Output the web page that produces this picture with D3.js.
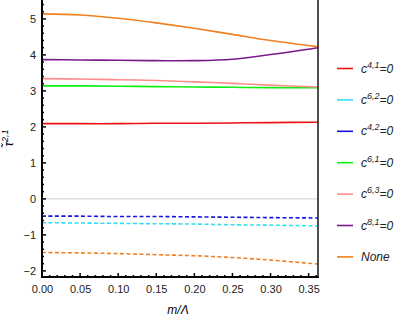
<!DOCTYPE html>
<html>
<head>
<meta charset="utf-8">
<script src="https://cdn.jsdelivr.net/npm/d3@7"></script>
<style>
  body { margin: 0; background: white; }
  text { font-family: 'Liberation Sans', Arial, sans-serif; }
</style>
</head>
<body>
<script>
// Data
let xs = [0, 0.05, 0.10, 0.15, 0.20, 0.25, 0.30, 0.362];

let c41 = [2.09, 2.09, 2.09, 2.10, 2.10, 2.11, 2.12, 2.13];
let c62 = [-0.66, -0.67, -0.68, -0.69, -0.70, -0.72, -0.73, -0.75];
let c42 = [-0.48, -0.48, -0.49, -0.49, -0.50, -0.51, -0.52, -0.53];
let c61 = [3.14, 3.14, 3.13, 3.12, 3.11, 3.10, 3.09, 3.09];
let c63 = [3.34, 3.33, 3.31, 3.29, 3.25, 3.21, 3.16, 3.11];
let c81 = [3.87, 3.86, 3.85, 3.84, 3.84, 3.88, 4.01, 4.20];
let noneTop = [5.14, 5.11, 5.02, 4.89, 4.74, 4.57, 4.40, 4.23];
let noneBottom = [-1.49, -1.50, -1.52, -1.55, -1.58, -1.63, -1.70, -1.81];

let legendLabels = [
  ['4,1', 'c'], ['6,2', 'c'], ['4,2', 'c'], ['6,1', 'c'],
  ['6,3', 'c'], ['8,1', 'c'], [null, 'None']
];
let legendColors = ['#ee1111', '#33e0ee', '#1515dd', '#11ee11', '#ff8c8c', '#7a1a8a', '#f08020'];

let xTicks = [0, 0.05, 0.10, 0.15, 0.20, 0.25, 0.30, 0.35];
let yTicks = [-2, -1, 0, 1, 2, 3, 4, 5];

let
  width = 405,
  height = 321;

let margin = { top: 2, bottom: 44, left: 42, right: 87 };

let svg = d3.select('body')
  .append('svg')
  .attr('width', width)
  .attr('height', height)
  .style('background', 'white');

let xScale = d3.scaleLinear()
  .domain([0, 0.3623])
  .range([margin.left, width - margin.right]);

let yScale = d3.scaleLinear()
  .domain([-2.17, 5.47])
  .range([height - margin.bottom, margin.top]);

// zero grid line
svg.append('line')
  .attr('x1', xScale(0)).attr('x2', xScale(0.3623))
  .attr('y1', yScale(0)).attr('y2', yScale(0))
  .attr('stroke', '#cccccc').attr('stroke-width', 1);

// curves
let line = d3.line()
  .x((d, i) => xScale(xs[i]))
  .y(d => yScale(d))
  .curve(d3.curveCatmullRom.alpha(0.5));

let series = [
  { v: c41, color: legendColors[0], dash: null },
  { v: c61, color: legendColors[3], dash: null },
  { v: c63, color: legendColors[4], dash: null },
  { v: c81, color: legendColors[5], dash: null },
  { v: noneTop, color: legendColors[6], dash: null },
  { v: c62, color: legendColors[1], dash: '4,2.5' },
  { v: c42, color: legendColors[2], dash: '4,2.5' },
  { v: noneBottom, color: legendColors[6], dash: '4,2.5' }
];

svg.selectAll('.curve')
  .data(series)
  .enter()
  .append('path')
  .attr('class', 'curve')
  .attr('d', d => line(d.v))
  .attr('fill', 'none')
  .attr('stroke', d => d.color)
  .attr('stroke-width', 1.6)
  .attr('stroke-dasharray', d => d.dash);

// axes
let yAxis = svg.append('g')
  .attr('transform', `translate(${margin.left},0)`)
  .call(d3.axisLeft(yScale).tickValues(yTicks).tickSize(0).tickPadding(6)
    .tickFormat(d => d < 0 ? '\u2212' + Math.abs(d) : d));
yAxis.select('.domain').remove();
yAxis.selectAll('text').style('font-size', '11px').attr('fill', '#222');

let xAxis = svg.append('g')
  .attr('transform', `translate(0,${height - margin.bottom})`)
  .call(d3.axisBottom(xScale).tickValues(xTicks).tickSize(0).tickPadding(8)
    .tickFormat(d3.format('.2f')));
xAxis.select('.domain').remove();
xAxis.selectAll('text').style('font-size', '11px').attr('fill', '#222');

// minor and major ticks, drawn inward
let yMinor = d3.range(-2.0, 5.41, 0.2);
svg.selectAll('.ytick')
  .data(yMinor)
  .enter()
  .append('line')
  .attr('x1', margin.left)
  .attr('x2', d => margin.left + (Math.abs(d - Math.round(d)) < 1e-6 ? 4 : 2))
  .attr('y1', d => yScale(d)).attr('y2', d => yScale(d))
  .attr('stroke', 'black').attr('stroke-width', 1.5);

let xMinor = d3.range(0, 0.3601, 0.01);
svg.selectAll('.xtick')
  .data(xMinor)
  .enter()
  .append('line')
  .attr('x1', d => xScale(d)).attr('x2', d => xScale(d))
  .attr('y1', height - margin.bottom)
  .attr('y2', (d, i) => height - margin.bottom - (i % 5 === 0 ? 4 : 2))
  .attr('stroke', 'black').attr('stroke-width', 1.5);

// frame
svg.append('line')
  .attr('x1', margin.left).attr('x2', margin.left)
  .attr('y1', 0).attr('y2', height - margin.bottom + 1)
  .attr('stroke', 'black').attr('stroke-width', 2);
svg.append('line')
  .attr('x1', margin.left - 1).attr('x2', width - margin.right + 1)
  .attr('y1', height - margin.bottom).attr('y2', height - margin.bottom)
  .attr('stroke', 'black').attr('stroke-width', 2);
svg.append('line')
  .attr('x1', width - margin.right).attr('x2', width - margin.right)
  .attr('y1', 0).attr('y2', height - margin.bottom)
  .attr('stroke', '#222').attr('stroke-width', 1.6);

// axis labels
svg.append('text')
  .attr('x', 178)
  .attr('y', 314)
  .attr('text-anchor', 'middle')
  .style('font-size', '12px')
  .style('font-style', 'italic')
  .text('m/\u039b');

let yl = svg.append('text')
  .attr('transform', 'translate(13,138) rotate(-90)')
  .attr('text-anchor', 'middle')
  .style('font-size', '12px')
  .style('font-style', 'italic');
yl.append('tspan').text('\u03c4\u0303');
yl.append('tspan').attr('dy', -5).style('font-size', '9px').text('2,1');

// legend
let legend = svg.selectAll('.legend')
  .data(legendLabels)
  .enter()
  .append('g')
  .attr('class', 'legend')
  .attr('transform', (d, i) => `translate(337,${68.5 + i * 31.4})`);

legend.append('line')
  .attr('x1', 0).attr('x2', 16)
  .attr('stroke', (d, i) => legendColors[i])
  .attr('stroke-width', 1.6);

let lt = legend.append('text')
  .attr('x', 24)
  .attr('y', 4)
  .style('font-size', '12px')
  .style('font-style', 'italic')
  .attr('fill', '#222');
lt.append('tspan').text(d => d[1]);
lt.filter(d => d[0] !== null).append('tspan')
  .attr('dy', -5).style('font-size', '9px').text(d => d[0]);
lt.filter(d => d[0] !== null).append('tspan')
  .attr('dy', 5).text('=0');
</script>
</body>
</html>
